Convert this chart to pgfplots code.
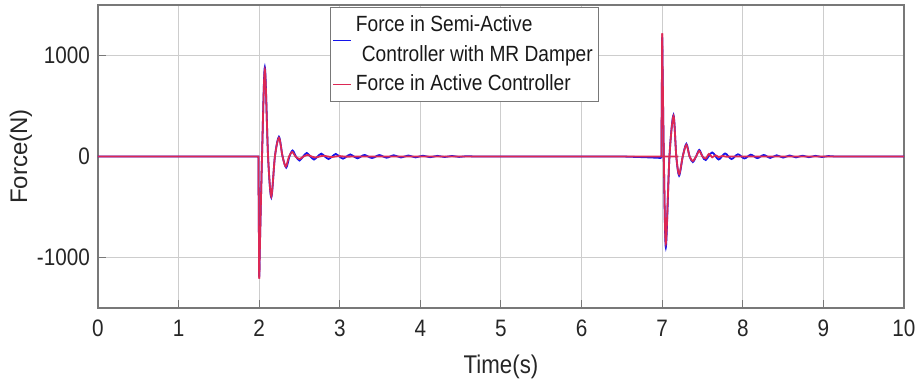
\documentclass[border=0pt]{standalone}
\usepackage{fontspec}
\setmainfont{Liberation Sans}[FakeStretch=0.87]
\newfontfamily\plainfont{Liberation Sans}
\usepackage{pgfplots}
\usepackage{pgfplotstable}
\pgfplotsset{compat=1.18}
\definecolor{semiblue}{RGB}{20,20,235}
\definecolor{actred}{RGB}{220,40,85}
\definecolor{gridgray}{RGB}{205,205,205}
\definecolor{boxgray}{RGB}{120,120,120}

\pgfplotstableread{
t F
0 0
1.97 0
1.98 0
1.99 0
2.00 -1190
2.035 0
2.07 885
2.11 0
2.15 -405
2.195 0
2.245 195
2.29 0
2.335 -110
2.375 0
2.415 60
2.455 0
2.50 -40
2.545 0
2.59 35
2.635 0
2.68 -30
2.725 0
2.77 28
2.815 0
2.86 -25
2.905 0
2.95 25
2.995 0
3.04 -22
3.085 0
3.13 20
3.175 0
3.22 -18
3.265 0
3.31 15
3.40 -15
3.49 14
3.58 -12
3.67 12
3.76 -10
3.85 10
3.94 -9
4.03 8
4.12 -7
4.21 6
4.30 -5
4.39 5
4.48 -4
4.57 3
4.66 0
4.70 0
4.75 0
6.40 0
6.45 0
6.50 0
6.80 -8
6.97 -14
6.98 -15
6.99 -15
7.00 1180
7.02 0
7.045 -900
7.09 0
7.14 410
7.175 0
7.21 -190
7.255 0
7.30 125
7.34 0
7.38 -55
7.42 0
7.46 65
7.50 0
7.54 -35
7.62 40
7.70 -30
7.78 30
7.86 -25
7.94 22
8.02 -20
8.10 18
8.18 -16
8.26 15
8.34 -14
8.42 12
8.50 -11
8.58 10
8.66 -9
8.74 8
8.82 -7
8.90 6
8.98 -5
9.06 4
9.14 0
9.20 0
9.25 0
10 0
}\semiactivedata

\pgfplotstableread{
t F
0 0
1.97 0
1.98 0
1.99 0
2.00 -1210
2.035 0
2.07 860
2.11 0
2.15 -395
2.195 0
2.245 185
2.29 0
2.33 -100
2.37 0
2.41 45
2.45 0
2.50 -25
2.55 0
2.60 15
2.65 0
2.70 -10
2.75 0
2.80 8
2.85 0
2.90 -6
2.95 0
3.00 4
3.05 0
3.10 -3
3.15 0
3.20 0
3.25 0
6.97 0
6.98 0
6.99 0
7.00 1220
7.02 0
7.045 -860
7.09 0
7.14 400
7.175 0
7.21 -175
7.255 0
7.30 115
7.34 0
7.38 -45
7.42 0
7.46 55
7.50 0
7.54 -20
7.58 25
7.62 -8
7.66 12
7.70 -5
7.75 5
7.80 -3
7.85 0
7.90 0
7.95 0
10 0
}\activedata

\begin{document}
\begin{tikzpicture}
\begin{axis}[
  name=ax,
  scale only axis,
  width=403pt, height=151.5pt,
  xmin=0, xmax=10, ymin=-1500, ymax=1500,
  xtick={0,1,...,10},
  ytick={-1000,0,1000},
  yticklabels={-1000,0,1000},
  /pgf/number format/assume math mode=true,
  grid=major,
  major grid style={gridgray, line width=0.5pt},
  axis line style={boxgray, line width=0.6pt},
  tick style={boxgray, line width=0.5pt},
  major tick length=4pt,
  tick align=inside,
  xtick pos=bottom, ytick pos=left,
  ticklabel style={font=\fontsize{11.9}{14}\selectfont, text=black!85},
  xticklabel style={yshift=-2.5pt},
  yticklabel style={xshift=-0.5pt},
  xlabel={Time(s)},
  ylabel={Force(N)},
  xlabel style={at={(axis description cs:0.5,0)}, anchor=north, yshift=-20pt, font=\fontsize{12.8}{15}\selectfont, text=black!85},
  ylabel style={at={(axis description cs:-0.0955,0.5)}, anchor=center, font=\plainfont\fontsize{12}{14}\selectfont, text=black!85},
  legend style={at={(rel axis cs:0.288,0.993)}, anchor=north west,
    draw=boxgray, line width=0.6pt, fill=white,
    font=\fontsize{11}{15}\selectfont, text=black!90,
    cells={align=left}, inner xsep=1pt, inner ysep=2pt,
    row sep=1pt},
  legend cell align=left,
  legend image code/.code={\draw[#1, line width=0.6pt] (0pt,0pt) -- (9pt,0pt);},
  blueline/.style={semiblue, line width=0.9pt},
  redline/.style={actred, line width=0.9pt},
]
% semi-active (blue)
\addplot[blueline, smooth, tension=0.5, restrict x to domain=1.995:6.995] table[x=t, y=F] {\semiactivedata};
\addlegendentry{Force in Semi-Active\\\hspace*{3pt}Controller with MR Damper}
\addplot[blueline, sharp plot, restrict x to domain=0:2.005, forget plot] table[x=t, y=F] {\semiactivedata};
\addplot[blueline, sharp plot, restrict x to domain=6.985:7.005, forget plot] table[x=t, y=F] {\semiactivedata};
\addplot[blueline, smooth, tension=0.5, restrict x to domain=6.995:10.5, forget plot] table[x=t, y=F] {\semiactivedata};
% active (red)
\addplot[redline, smooth, tension=0.5, restrict x to domain=1.995:6.995] table[x=t, y=F] {\activedata};
\addlegendentry{Force in Active Controller}
\addplot[redline, sharp plot, restrict x to domain=0:2.005, forget plot] table[x=t, y=F] {\activedata};
\addplot[redline, sharp plot, restrict x to domain=6.985:7.005, forget plot] table[x=t, y=F] {\activedata};
\addplot[redline, smooth, tension=0.5, restrict x to domain=6.995:10.5, forget plot] table[x=t, y=F] {\activedata};
\end{axis}
\pgfresetboundingbox
\useasboundingbox ([xshift=-49pt, yshift=-42pt]ax.south west) rectangle ([xshift=6.5pt, yshift=2.5pt]ax.north east);
\end{tikzpicture}
\end{document}
